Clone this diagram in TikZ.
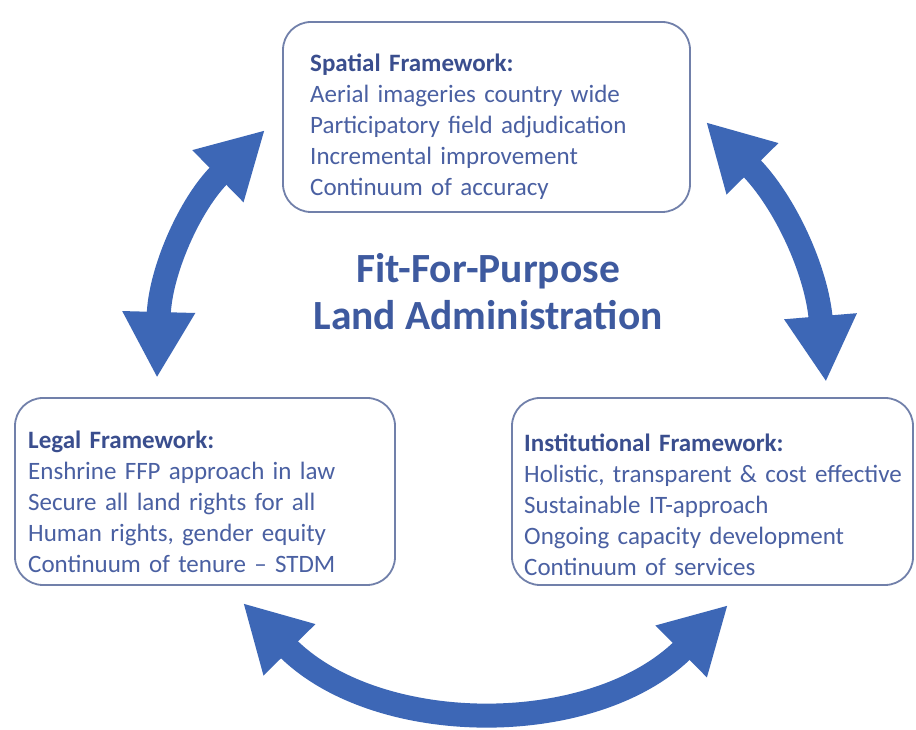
\documentclass[tikz,border=0pt]{standalone}
\usepackage{fontspec}
\setmainfont{Carlito}
\usetikzlibrary{arrows.meta}
\definecolor{arrowblue}{HTML}{3D67B6}
\definecolor{boxline}{HTML}{7180AA}
\definecolor{titleblue}{HTML}{3A4E8E}
\definecolor{itemblue}{HTML}{4A60A2}
\definecolor{mainblue}{HTML}{3E5A9F}
\tikzset{
  frame/.style={draw=boxline, line width=1.8pt, rounded corners=28pt, fill=white, inner sep=0pt},
  listtext/.style={anchor=base west, inner sep=0pt, text width=390pt, align=left, text=itemblue,
    font=\fontsize{25}{31}\selectfont},
  bigarrow/.style={draw=arrowblue, line width=24pt,
    {Triangle[width=68pt,length=66pt]}-{Triangle[width=68pt,length=66pt]}},
}
\newcommand{\ttl}[1]{\textcolor{titleblue}{\bfseries #1}}
\begin{document}
\begin{tikzpicture}[x=1pt,y=1pt]
\useasboundingbox (0,0) rectangle (916,730);
\fill[white] (0,0) rectangle (916,730);

% boxes
\node[frame, minimum width=407pt, minimum height=190pt] (sp) at (486.5,613) {};
\node[frame, minimum width=380pt, minimum height=187pt] (lg) at (205,238.5) {};
\node[frame, minimum width=401pt, minimum height=187pt] (in) at (712.5,238.5) {};

% texts
\node[listtext] (sptxt) at (310,658) {\ttl{Spatial Framework:}\\Aerial imageries country wide\\Participatory field adjudication\\Incremental improvement\\Continuum of accuracy};
\node[listtext] (lgtxt) at (28,281) {\ttl{Legal Framework:}\\Enshrine FFP approach in law\\Secure all land rights for all\\Human rights, gender equity\\Continuum of tenure -- STDM};
\node[listtext] (intxt) at (524,278) {\ttl{Institutional Framework:}\\Holistic, transparent \& cost effective\\Sustainable IT-approach\\Ongoing capacity development\\Continuum of services};

% centre title
\node[anchor=base, inner sep=0pt, align=center, text=mainblue,
  font=\fontsize{41.5}{47}\selectfont\bfseries] (ffp) at (488,400) {Fit-For-Purpose\\Land Administration};

% arrow end points
\coordinate (a1) at (157,352);
\coordinate (a2) at (265,600);
\coordinate (b1) at (706,608);
\coordinate (b2) at (826,348);
\coordinate (c1) at (243,127);
\coordinate (c2) at (728,125);

\draw[bigarrow] (a1) to[bend left=22] (a2);
\draw[bigarrow] (b1) to[bend left=20] (b2);
\draw[bigarrow] (c1) to[bend right=45] (c2);
\end{tikzpicture}
\end{document}
